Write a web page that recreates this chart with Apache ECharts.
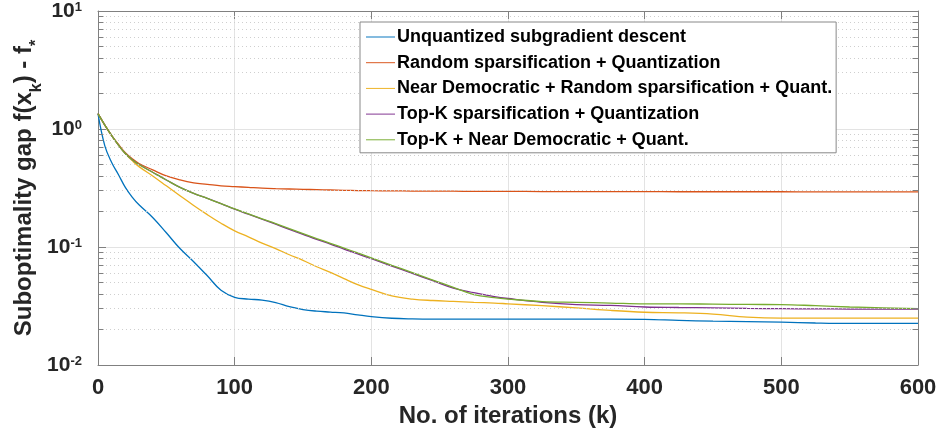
<!DOCTYPE html>
<html>
<head>
<meta charset="utf-8">
<script src="https://cdn.jsdelivr.net/npm/echarts@6/dist/echarts.min.js"></script>
<style>
  html, body { margin: 0; padding: 0; background: #fff; }
  #chart { width: 941px; height: 433px; }
</style>
</head>
<body>
<div id="chart"></div>
<script>
// iteration samples (k) shared by every curve
var iters = [0, 5, 10, 15, 20, 25, 30, 40, 50, 60, 70, 80, 90, 100, 110, 120, 130, 140, 150, 160, 170, 180, 190, 200,
  215, 230, 245, 260, 275, 290, 300, 325, 350, 375, 400, 425, 450, 475, 500, 525, 550, 575, 600];

var unquantized = [1.35, 0.72, 0.52, 0.41, 0.32, 0.265, 0.228, 0.178, 0.132, 0.097, 0.075, 0.057, 0.043, 0.0375, 0.0362, 0.0355, 0.0338, 0.0312, 0.0295, 0.0286, 0.0281, 0.0276, 0.0266, 0.0257,
  0.0249, 0.0246, 0.0245, 0.0245, 0.0245, 0.0245, 0.0245, 0.0245, 0.0245, 0.0245, 0.0244, 0.0239, 0.0235, 0.0233, 0.0231, 0.0227, 0.0225, 0.0225, 0.0225];

var randomSpars = [1.35, 1.08, 0.88, 0.74, 0.63, 0.56, 0.51, 0.45, 0.40, 0.37, 0.35, 0.34, 0.33, 0.325, 0.32, 0.315, 0.312, 0.31, 0.308, 0.306, 0.304, 0.302, 0.301, 0.30,
  0.299, 0.298, 0.297, 0.297, 0.296, 0.296, 0.296, 0.295, 0.295, 0.295, 0.295, 0.294, 0.294, 0.294, 0.294, 0.293, 0.293, 0.293, 0.293];

var nearDemRandom = [1.35, 1.08, 0.88, 0.73, 0.62, 0.54, 0.48, 0.40, 0.33, 0.272, 0.225, 0.188, 0.159, 0.137, 0.122, 0.108, 0.097, 0.086, 0.077, 0.068, 0.061, 0.054, 0.048, 0.0437,
  0.0385, 0.0362, 0.0352, 0.0346, 0.034, 0.0335, 0.033, 0.0318, 0.0305, 0.029, 0.028, 0.0277, 0.027, 0.0255, 0.025, 0.025, 0.025, 0.025, 0.025];

var topK = [1.35, 1.08, 0.88, 0.73, 0.62, 0.55, 0.50, 0.43, 0.37, 0.32, 0.285, 0.258, 0.233, 0.209, 0.190, 0.172, 0.156, 0.141, 0.128, 0.116, 0.106, 0.096, 0.0875, 0.0795,
  0.069, 0.0597, 0.0518, 0.0449, 0.041, 0.038, 0.0366, 0.034, 0.0325, 0.032, 0.031, 0.0307, 0.0305, 0.0302, 0.030, 0.0299, 0.0298, 0.0297, 0.0297];

var topKNearDem = [1.35, 1.08, 0.88, 0.73, 0.62, 0.55, 0.50, 0.43, 0.37, 0.32, 0.285, 0.258, 0.233, 0.210, 0.191, 0.173, 0.158, 0.143, 0.130, 0.118, 0.1075, 0.098, 0.089, 0.081,
  0.070, 0.0606, 0.0525, 0.0455, 0.0395, 0.0372, 0.0362, 0.0345, 0.034, 0.0335, 0.033, 0.033, 0.0328, 0.0326, 0.0325, 0.0318, 0.031, 0.0305, 0.030];

var seriesNames = [
  "Unquantized subgradient descent",
  "Random sparsification + Quantization",
  "Near Democratic + Random sparsification + Quant.",
  "Top-K sparsification + Quantization",
  "Top-K + Near Democratic + Quant."
];
var seriesColors = ["#0072BD", "#D95319", "#EDB120", "#7E2F8E", "#77AC30"];

// minor log grid values (2..9 of each decade)
var minorVals = [];
[0.01, 0.1, 1].forEach(function (d) {
  for (var m = 2; m <= 9; m++) minorVals.push(+(d * m).toPrecision(3));
});

var FONT = "Liberation Sans, Arial, Helvetica, sans-serif";
var AXIS_GRAY = "#808080";

function pairs(vals) {
  return iters.map(function (k, i) { return [k, vals[i]]; });
}

var chart = echarts.init(document.getElementById("chart"));

var allVals = [unquantized, randomSpars, nearDemRandom, topK, topKNearDem];
var lineSeries = allVals.map(function (vals, i) {
  return {
    name: seriesNames[i],
    type: "line",
    data: pairs(vals),
    showSymbol: false,
    symbol: "none",
    smooth: 0.4,
    color: seriesColors[i],
    lineStyle: { width: 1.3, color: seriesColors[i] },
    z: 3,
    animation: false
  };
});

// dotted minor grid + small minor ticks on the left and right axis lines
var minorLines = [];
minorVals.forEach(function (v) {
  minorLines.push([{ coord: [0, v] }, { coord: [600, v] }]);
});
var minorTicks = [];
minorVals.forEach(function (v) {
  minorTicks.push([{ coord: [0, v] }, { coord: [4, v] }]);
  minorTicks.push([{ coord: [596, v] }, { coord: [600, v] }]);
});

var helperSeries = [
  {
    name: "minorGrid",
    type: "line",
    data: [],
    z: 1,
    silent: true,
    animation: false,
    markLine: {
      silent: true,
      symbol: ["none", "none"],
      label: { show: false },
      animation: false,
      lineStyle: { color: "#cfcfcf", type: [1, 3], width: 1 },
      emphasis: { disabled: true },
      data: minorLines
    }
  },
  {
    name: "minorTick",
    type: "line",
    data: [],
    z: 4,
    silent: true,
    animation: false,
    markLine: {
      silent: true,
      symbol: ["none", "none"],
      label: { show: false },
      animation: false,
      lineStyle: { color: AXIS_GRAY, type: "solid", width: 1 },
      emphasis: { disabled: true },
      data: minorTicks
    }
  }
];

var option = {
  backgroundColor: "#fff",
  animation: false,
  textStyle: { fontFamily: FONT },
  grid: { left: 98, right: 23, top: 11, bottom: 68, containLabel: false, outerBoundsMode: "none" },
  legend: {
    data: seriesNames.map(function (n) { return { name: n, icon: "path://M0,0 H30 V1 H0 Z" }; }),
    orient: "vertical",
    left: 360,
    top: 22,
    itemWidth: 29,
    itemHeight: 1.4,
    itemGap: 5.7,
    padding: [5, 4, 3, 6],
    backgroundColor: "#fff",
    borderColor: "#888",
    borderWidth: 1,
    borderRadius: 0,
    z: 10,
    textStyle: { fontFamily: FONT, fontSize: 18, fontWeight: "bold", color: "#000", lineHeight: 20, padding: [0, 0, 0, -3] }
  },
  xAxis: [
    {
      type: "value",
      min: 0,
      max: 600,
      interval: 100,
      name: "No. of iterations (k)",
      nameLocation: "middle",
      nameGap: 34,
      nameTextStyle: { fontFamily: FONT, fontSize: 24, fontWeight: "bold", color: "#262626" },
      axisLine: { show: true, onZero: false, lineStyle: { color: AXIS_GRAY, width: 1 } },
      axisTick: { show: true, inside: true, length: 8, lineStyle: { color: AXIS_GRAY } },
      axisLabel: { fontFamily: FONT, fontSize: 22, fontWeight: "bold", color: "#262626", margin: 12 },
      splitLine: { show: true, lineStyle: { color: "#e3e3e3", width: 1 } }
    },
    {
      type: "value",
      position: "top",
      min: 0,
      max: 600,
      interval: 100,
      axisLine: { show: true, onZero: false, lineStyle: { color: AXIS_GRAY, width: 1 } },
      axisTick: { show: true, inside: true, length: 8, lineStyle: { color: AXIS_GRAY } },
      axisLabel: { show: false },
      splitLine: { show: false }
    }
  ],
  yAxis: [
    {
      type: "log",
      logBase: 10,
      min: 0.01,
      max: 10,
      name: "{a|Suboptimality gap f(x}{s|k}{a|) - f}{s|*}",
      nameLocation: "middle",
      nameGap: 61,
      nameRotate: 90,
      nameMoveOverlap: false,
      nameTextStyle: {
        rich: {
          a: { fontFamily: FONT, fontSize: 24, fontWeight: "bold", color: "#262626", lineHeight: 26, verticalAlign: "middle" },
          s: { fontFamily: FONT, fontSize: 16, fontWeight: "bold", color: "#262626", lineHeight: 16, verticalAlign: "top", padding: [18, 0, 0, 0] }
        }
      },
      axisLine: { show: true, onZero: false, lineStyle: { color: AXIS_GRAY, width: 1 } },
      axisTick: { show: true, inside: true, length: 8, lineStyle: { color: AXIS_GRAY } },
      axisLabel: {
        margin: 16,
        formatter: function (v) {
          var e = Math.round(Math.log10(v));
          return "{b|10}{s|" + e + "}";
        },
        rich: {
          b: { fontFamily: FONT, fontSize: 21, fontWeight: "bold", color: "#262626", lineHeight: 21, verticalAlign: "bottom", padding: [7, 0, 0, 0] },
          s: { fontFamily: FONT, fontSize: 13, fontWeight: "bold", color: "#262626", lineHeight: 13, verticalAlign: "top" }
        }
      },
      splitLine: { show: true, lineStyle: { color: "#e3e3e3", width: 1 } }
    },
    {
      type: "log",
      logBase: 10,
      min: 0.01,
      max: 10,
      position: "right",
      axisLine: { show: true, onZero: false, lineStyle: { color: AXIS_GRAY, width: 1 } },
      axisTick: { show: true, inside: true, length: 8, lineStyle: { color: AXIS_GRAY } },
      axisLabel: { show: false },
      splitLine: { show: false }
    }
  ],
  series: helperSeries.concat(lineSeries)
};

chart.setOption(option);
</script>
</body>
</html>
